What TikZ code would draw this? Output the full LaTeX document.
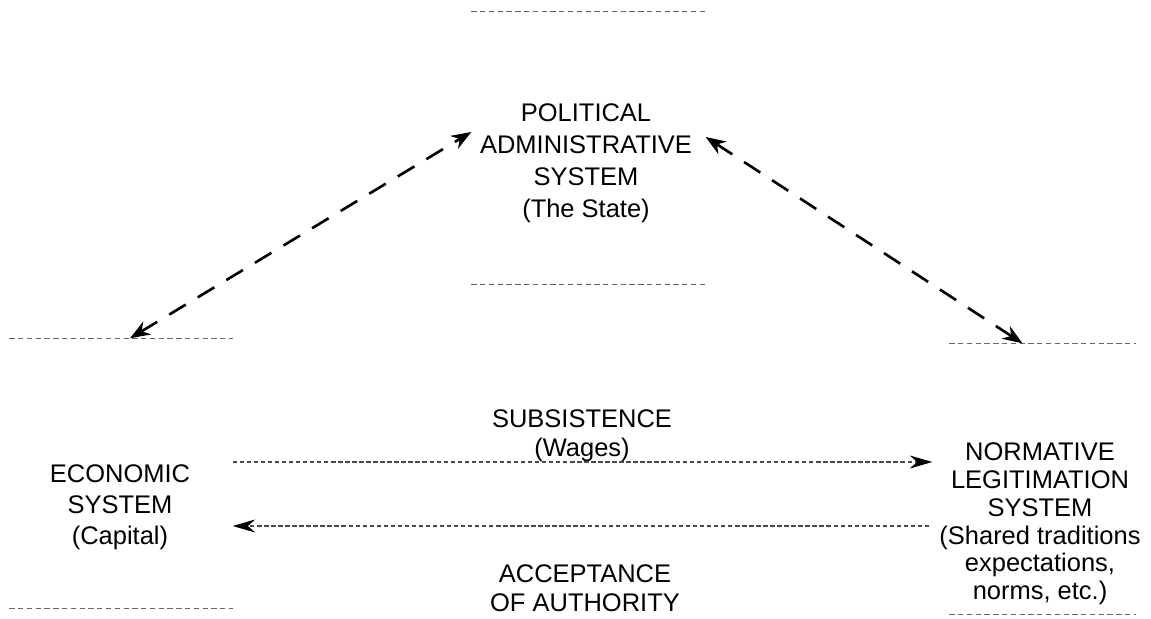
\documentclass[tikz,border=0pt]{standalone}
\usepackage{fontspec}
\setmainfont{Liberation Sans}
\usetikzlibrary{arrows.meta}
\begin{document}
\begin{tikzpicture}[thick,
    sysbox/.style = {rectangle, inner sep=0pt},
    systext/.style = {align=center, inner sep=0pt, font=\fontsize{14.5}{17.5}\selectfont},
    boxline/.style = {line width=0.6pt, black!60, densely dashed},
    link/.style = {line width=1.5pt, dash pattern=on 11pt off 8pt, {Stealth[length=4mm,width=3mm]}-{Stealth[length=4mm,width=3mm]}},
    flow/.style = {line width=0.6pt, black!70, dash pattern=on 2.5pt off 1.5pt, -{Stealth[length=4.5mm,width=2.6mm,color=black]}}]
    \useasboundingbox (0,0) rectangle (23.02,-12.38);
    % the three systems
    \node[sysbox, minimum width=4.66cm, minimum height=5.44cm] (pol) at (11.77,-2.96) {};
    \node[sysbox, minimum width=4.44cm, minimum height=5.38cm] (eco) at (2.42,-9.47) {};
    \node[sysbox, minimum width=3.7cm, minimum height=5.4cm] (norm) at (20.85,-9.58) {};
    \node[systext, font=\fontsize{14.5}{18.2}\selectfont] (poltext) at (11.72,-3.26) {POLITICAL\\ADMINISTRATIVE\\SYSTEM\\(The State)};
    \node[systext] (ecotext) at (2.40,-10.14) {ECONOMIC\\SYSTEM\\(Capital)};
    \node[systext, font=\fontsize{14.5}{15.8}\selectfont] (normtext) at (20.8,-10.48) {NORMATIVE\\LEGITIMATION\\SYSTEM\\(Shared traditions\\expectations,\\norms, etc.)};
    \foreach \b in {pol, eco, norm} {
        \draw[boxline] (\b.north west) -- (\b.north east);
        \draw[boxline] (\b.south west) -- (\b.south east);
    }
    % exchanges
    \node[systext, font=\fontsize{14.5}{16.5}\selectfont] (subs) at (11.64,-8.72) {SUBSISTENCE\\(Wages)};
    \node[systext, font=\fontsize{14.5}{16.5}\selectfont] (accept) at (11.70,-11.76) {ACCEPTANCE\\OF AUTHORITY};
    \coordinate (subsL) at ([yshift=2.3mm]eco.east);
    \coordinate (subsR) at ([xshift=-3.4mm]subsL -| norm.west);
    \coordinate (accL) at ([yshift=-10.5mm]eco.east);
    \coordinate (accR) at ([xshift=-4mm]accL -| norm.west);
    \draw[flow] (subsL) -- (subsR);
    \draw[flow] (accR) -- (accL);
    \draw[link] ([xshift=1.8mm]eco.north) -- ([yshift=3.2mm]pol.west);
    \draw[link] ([yshift=2.2mm]pol.east) -- ([xshift=-4mm]norm.north);
\end{tikzpicture}
\end{document}
